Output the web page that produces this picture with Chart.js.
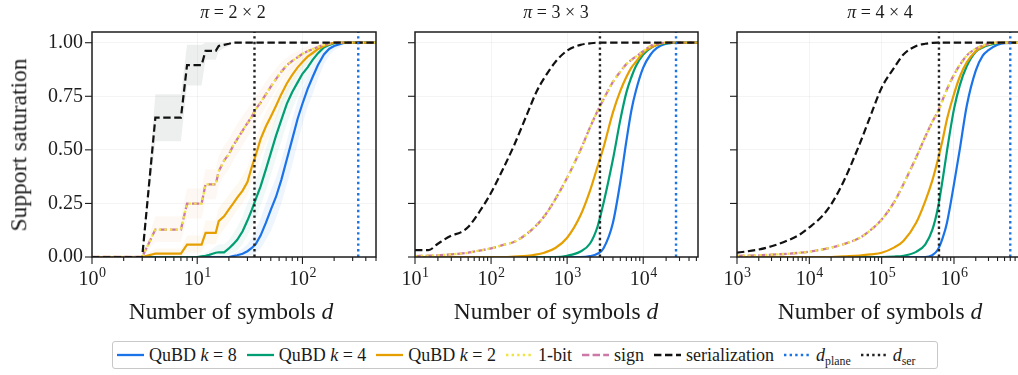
<!DOCTYPE html>
<html>
<head>
<meta charset="utf-8">
<title>Support saturation</title>
<script src="https://cdn.jsdelivr.net/npm/chart.js@4.4.1/dist/chart.umd.min.js"></script>
<style>
  html, body { margin: 0; padding: 0; background: #fff; }
  body { position: relative; width: 1018px; height: 375px; overflow: hidden;
         font-family: "Liberation Serif", "Times New Roman", serif; color: #1b1b1b; }
  canvas { position: absolute; top: 0; }
  .lbl { position: absolute; white-space: nowrap; line-height: 1; transform: translateX(-50%); }
  .title { font-size: 18px; top: 3px; }
  .xlab { font-size: 23.5px; top: 300px; }
  .ylab { position: absolute; font-size: 23.5px; line-height: 1; white-space: nowrap;
          left: 19px; top: 145px; transform: translate(-50%, -50%) rotate(-90deg); }
  #legend { position: absolute; left: 112px; top: 341px; width: 826px; height: 28px; box-sizing: border-box;
            border: 1px solid #c8c8c8; border-radius: 3px; display: flex; align-items: center;
            padding-left: 4px; font-size: 18px; }
  .item { display: flex; align-items: center; margin-right: 10px; white-space: nowrap; }
  .item svg { margin-right: 5px; }
  sub { font-size: 0.66em; vertical-align: -0.3em; line-height: 0; }
</style>
</head>
<body>
<canvas id="p1" width="385" height="300" style="left:0px"></canvas>
<canvas id="p2" width="320" height="300" style="left:385px"></canvas>
<canvas id="p3" width="320" height="300" style="left:705px"></canvas>

<div class="lbl title" style="left:233px"><i>π</i> = 2 × 2</div>
<div class="lbl title" style="left:556px"><i>π</i> = 3 × 3</div>
<div class="lbl title" style="left:880px"><i>π</i> = 4 × 4</div>

<div class="ylab">Support saturation</div>
<div class="lbl xlab" style="left:231px">Number of symbols <i>d</i></div>
<div class="lbl xlab" style="left:556px">Number of symbols <i>d</i></div>
<div class="lbl xlab" style="left:880px">Number of symbols <i>d</i></div>

<div id="legend"></div>

<script>
// ---------------- data ----------------
// pi = 2x2 : mean curves (steps) + spread bands
const d22 = [1, 2, 3, 4, 5, 6, 7, 8, 9, 10, 11, 12, 13, 14, 15, 16, 18, 20, 22, 24, 27, 30, 33, 36, 40, 45, 50, 56, 63, 71, 80, 90, 100, 112, 125, 140, 160, 180, 200, 250, 350, 500];
const ser22 = [0, 0, 0, .65, .65, .65, .65, .895, .895, .895, .895, .962, .962, .962, .962, .985, .99, .995, 1, 1, 1, 1, 1, 1, 1, 1, 1, 1, 1, 1, 1, 1, 1, 1, 1, 1, 1, 1, 1, 1, 1, 1];
const ser22Lo = [0, 0, 0, .54, .54, .54, .54, .80, .80, .80, .80, .92, .92, .92, .92, .96, .975, .985, 1, 1, 1, 1, 1, 1, 1, 1, 1, 1, 1, 1, 1, 1, 1, 1, 1, 1, 1, 1, 1, 1, 1, 1];
const ser22Hi = [0, 0, 0, .76, .76, .76, .76, .99, .99, .99, .99, 1, 1, 1, 1, 1, 1, 1, 1, 1, 1, 1, 1, 1, 1, 1, 1, 1, 1, 1, 1, 1, 1, 1, 1, 1, 1, 1, 1, 1, 1, 1];
// 1-bit and sign coincide
const bit22 = [0, 0, 0, .128, .128, .128, .128, .249, .249, .249, .249, .339, .339, .339, .339, .40, .45, .48, .52, .55, .59, .625, .655, .69, .72, .76, .795, .83, .865, .895, .915, .932, .948, .96, .97, .98, .99, .996, 1, 1, 1, 1];
const bit22Lo = [0, 0, 0, .07, .07, .07, .07, .18, .18, .18, .18, .27, .27, .27, .27, .33, .38, .41, .45, .48, .52, .56, .59, .63, .66, .70, .74, .78, .82, .86, .88, .90, .92, .94, .955, .97, .985, .99, 1, 1, 1, 1];
const bit22Hi = [0, 0, 0, .19, .19, .19, .19, .32, .32, .32, .32, .41, .41, .41, .41, .47, .52, .55, .59, .62, .66, .69, .72, .75, .78, .82, .85, .88, .91, .93, .95, .96, .975, .985, .99, 1, 1, 1, 1, 1, 1, 1];
const k2_22 = [0, 0, 0, .016, .016, .016, .016, .058, .058, .058, .058, .113, .113, .113, .113, .167, .19, .222, .25, .277, .31, .35, .42, .475, .55, .61, .655, .705, .76, .81, .85, .885, .91, .935, .952, .97, .985, .993, 1, 1, 1, 1];
const k2_22Lo = [0, 0, 0, 0, 0, 0, 0, .02, .02, .02, .02, .06, .06, .06, .06, .10, .13, .16, .19, .22, .25, .29, .35, .40, .47, .53, .58, .64, .70, .76, .81, .85, .88, .91, .935, .955, .975, .99, 1, 1, 1, 1];
const k2_22Hi = [0, 0, 0, .04, .04, .04, .04, .10, .10, .10, .10, .17, .17, .17, .17, .23, .26, .29, .32, .34, .38, .42, .49, .55, .62, .68, .72, .77, .81, .86, .89, .92, .94, .96, .97, .985, .995, 1, 1, 1, 1, 1];
const k4_22 = [0, 0, 0, 0, 0, 0, 0, 0, 0, 0, .003, .006, .01, .015, .02, .022, .022, .04, .06, .08, .12, .17, .22, .27, .33, .41, .485, .565, .64, .715, .77, .815, .855, .885, .92, .95, .978, .99, .998, 1, 1, 1];
const k4_22Lo = [0, 0, 0, 0, 0, 0, 0, 0, 0, 0, 0, 0, 0, 0, 0, 0, 0, .01, .02, .03, .06, .10, .14, .18, .24, .31, .38, .46, .54, .62, .69, .75, .80, .84, .88, .92, .96, .98, .995, 1, 1, 1];
const k4_22Hi = [0, 0, 0, 0, 0, 0, 0, 0, 0, 0, .01, .02, .03, .04, .05, .06, .06, .08, .11, .14, .19, .25, .30, .36, .42, .51, .58, .66, .73, .79, .83, .87, .90, .92, .95, .975, .99, 1, 1, 1, 1, 1];
const k8_22 = [0, 0, 0, 0, 0, 0, 0, 0, 0, 0, 0, 0, 0, 0, 0, 0, 0, 0, .004, .008, .015, .027, .042, .06, .10, .16, .22, .28, .36, .455, .55, .645, .715, .785, .84, .895, .945, .972, .985, 1, 1, 1];
const k8_22Lo = [0, 0, 0, 0, 0, 0, 0, 0, 0, 0, 0, 0, 0, 0, 0, 0, 0, 0, 0, 0, 0, .005, .01, .02, .04, .08, .12, .18, .25, .34, .43, .53, .62, .70, .76, .83, .90, .94, .965, .99, 1, 1];
const k8_22Hi = [0, 0, 0, 0, 0, 0, 0, 0, 0, 0, 0, 0, 0, 0, 0, 0, 0, .005, .015, .025, .04, .06, .09, .13, .18, .25, .31, .37, .45, .54, .64, .73, .79, .84, .88, .925, .96, .985, .993, 1, 1, 1];

// pi = 3x3
const d33 = [10, 15, 20, 30, 40, 50, 70, 100, 150, 200, 300, 400, 500, 700, 1000, 1500, 2000, 2500, 3000, 4000, 5000, 6000, 7000, 8000, 10000, 12500, 15000, 20000, 30000, 52500];
const ser33 = [.032, .032, .062, .10, .115, .14, .21, .30, .425, .52, .67, .775, .835, .91, .963, .99, .997, 1, 1, 1, 1, 1, 1, 1, 1, 1, 1, 1, 1, 1];
const bit33 = [.004, .006, .008, .012, .016, .02, .03, .04, .058, .07, .11, .15, .19, .27, .37, .50, .605, .68, .735, .817, .865, .90, .92, .935, .96, .985, .995, 1, 1, 1];
const k2_33 = [0, 0, 0, 0, 0, 0, 0, 0, 0, .002, .005, .012, .02, .042, .09, .195, .31, .42, .51, .675, .775, .84, .884, .91, .955, .978, .99, 1, 1, 1];
const k4_33 = [0, 0, 0, 0, 0, 0, 0, 0, 0, 0, 0, 0, 0, 0, .006, .026, .063, .14, .25, .456, .64, .767, .84, .89, .945, .975, .99, .997, 1, 1];
const k8_33 = [0, 0, 0, 0, 0, 0, 0, 0, 0, 0, 0, 0, 0, 0, 0, 0, .004, .015, .04, .16, .35, .54, .685, .775, .884, .945, .975, .995, 1, 1];

// pi = 4x4
const d44 = [1e3, 2e3, 3e3, 5e3, 7e3, 1e4, 1.5e4, 2e4, 3e4, 5e4, 7e4, 1e5, 1.5e5, 2e5, 3e5, 4e5, 5e5, 6e5, 7e5, 8e5, 1e6, 1.2e6, 1.5e6, 2e6, 2.5e6, 3e6, 4e6, 5e6, 9e6];
const ser44 = [.02, .035, .05, .077, .10, .138, .19, .245, .355, .53, .658, .79, .885, .945, .985, .995, .999, 1, 1, 1, 1, 1, 1, 1, 1, 1, 1, 1, 1];
const bit44 = [.005, .008, .011, .015, .019, .025, .035, .044, .06, .09, .125, .175, .258, .34, .465, .56, .63, .68, .735, .783, .85, .895, .94, .972, .987, .994, 1, 1, 1];
const k2_44 = [0, 0, 0, 0, 0, 0, 0, 0, .003, .007, .012, .02, .045, .075, .16, .26, .355, .455, .55, .643, .76, .84, .908, .96, .982, .993, 1, 1, 1];
const k4_44 = [0, 0, 0, 0, 0, 0, 0, 0, 0, 0, 0, 0, .002, .006, .024, .058, .125, .23, .365, .495, .69, .80, .89, .958, .978, .988, .998, 1, 1];
const k8_44 = [0, 0, 0, 0, 0, 0, 0, 0, 0, 0, 0, 0, 0, 0, 0, 0, .008, .035, .09, .16, .34, .50, .705, .87, .94, .965, .99, .998, 1];

// reference thresholds per panel
const dPlane = [339, 27000, 6.0e6];
const dSer = [35, 2700, 6.2e5];

// axes
const xRange = [[1, 500], [10, 52500], [1e3, 9e6]];
const xMajors = [[1, 10, 100], [10, 100, 1000, 10000], [1e3, 1e4, 1e5, 1e6]];
const yTicks = [0, 0.25, 0.5, 0.75, 1.0];

// ---------------- styling ----------------
const ink = '#1e1e1e';
const gridColor = 'rgba(0,0,0,0.045)';
const col = {
  k8: '#1a73e8', k4: '#009e73', k2: '#e69f00', bit: '#f0e442',
  sign: '#cc79a7', ser: '#111111', plane: '#1a73e8', dser: '#222222'
};
const dash = { ser: [7.4, 3.6], sign: [7.4, 3.2], dot: [2.4, 3.2] };

Chart.defaults.font.family = '"Liberation Serif", "Times New Roman", serif';

function logTicks(majors, min, max) {
  const out = [];
  majors.forEach(m => {
    for (let k = 1; k <= 9; k++) {
      const v = m * k;
      if (v >= min * 0.999 && v <= max * 1.001) out.push({ value: v, major: k === 1 });
    }
  });
  return out;
}

// frame, outward ticks and 10^n labels
const axesPlugin = {
  id: 'axesPlugin',
  afterDraw(chart) {
    const { ctx, chartArea: a, scales: { x, y } } = chart;
    ctx.save();
    ctx.strokeStyle = ink;
    ctx.lineWidth = 1.1;
    x.ticks.forEach(t => {
      const px = x.getPixelForValue(t.value);
      if (px < a.left - 1 || px > a.right + 1) return;
      ctx.beginPath();
      ctx.moveTo(px, a.bottom);
      ctx.lineTo(px, a.bottom + (t.major ? 7 : 4));
      ctx.stroke();
    });
    y.ticks.forEach(t => {
      const py = y.getPixelForValue(t.value);
      ctx.beginPath();
      ctx.moveTo(a.left, py);
      ctx.lineTo(a.left - 7, py);
      ctx.stroke();
    });
    ctx.lineWidth = 1.5;
    ctx.strokeRect(a.left, a.top, a.right - a.left, a.bottom - a.top);

    ctx.fillStyle = ink;
    ctx.textBaseline = 'alphabetic';
    const fam = '"Liberation Serif", serif';
    x.ticks.forEach(t => {
      if (!t.major) return;
      const px = x.getPixelForValue(t.value);
      const exp = String(Math.round(Math.log10(t.value)));
      ctx.font = '20px ' + fam;
      const wb = ctx.measureText('10').width;
      ctx.font = '14px ' + fam;
      const we = ctx.measureText(exp).width;
      const left = px - (wb + we) / 2;
      ctx.font = '20px ' + fam;
      ctx.fillText('10', left, a.bottom + 28);
      ctx.font = '14px ' + fam;
      ctx.fillText(exp, left + wb + 0.5, a.bottom + 19.5);
    });
    ctx.restore();
  }
};

function lineSet(xs, ys, color, width, borderDash, order, smooth) {
  return {
    data: xs.map((x, i) => ({ x, y: ys[i] })),
    borderColor: color, borderWidth: width, borderDash: borderDash || [],
    borderCapStyle: 'butt', pointRadius: 0, fill: false, order,
    cubicInterpolationMode: smooth ? 'monotone' : 'default', tension: 0
  };
}

function bandSets(xs, lo, hi, color) {
  return [
    { data: xs.map((x, i) => ({ x, y: lo[i] })), borderWidth: 0, pointRadius: 0, fill: false, order: 20 },
    { data: xs.map((x, i) => ({ x, y: hi[i] })), borderWidth: 0, pointRadius: 0, fill: '-1', backgroundColor: color, order: 20 }
  ];
}

function vline(v, color, order) {
  return {
    data: [{ x: v, y: 0 }, { x: v, y: 1.05 }],
    borderColor: color, borderWidth: 2.4, borderDash: dash.dot, pointRadius: 0, fill: false, order
  };
}

function panel(id, idx, series, bands, opts) {
  const [min, max] = xRange[idx];
  const smooth = idx > 0;
  const datasets = [];
  bands.forEach(b => datasets.push(...b));
  datasets.push(
    lineSet(series.d, series.k8, col.k8, 2.2, null, 7, smooth),
    lineSet(series.d, series.k4, col.k4, 2.2, null, 6, smooth),
    lineSet(series.d, series.k2, col.k2, 2.2, null, 5, smooth),
    lineSet(series.d, series.bit, col.sign, 2.3, dash.sign, 4, smooth),
    lineSet(series.d, series.bit, col.bit, 2.3, dash.dot, 3, smooth),
    lineSet(series.d, series.ser, col.ser, 2.2, dash.ser, 2, smooth),
    vline(dPlane[idx], col.plane, 1),
    vline(dSer[idx], col.dser, 0)
  );
  return new Chart(document.getElementById(id), {
    type: 'line',
    data: { datasets },
    plugins: [axesPlugin],
    options: {
      responsive: false,
      animation: false,
      devicePixelRatio: 1,
      events: [],
      layout: { padding: { left: 0, right: opts.padRight, top: 32, bottom: 0 } },
      plugins: { legend: { display: false }, tooltip: { enabled: false } },
      scales: {
        x: {
          type: 'logarithmic', min, max,
          afterBuildTicks: s => { s.ticks = logTicks(xMajors[idx], min, max); },
          afterFit: s => { s.height = 43; },
          grid: { drawTicks: false, color: c => (c.tick && c.tick.major) ? gridColor : 'rgba(0,0,0,0)' },
          border: { display: false },
          ticks: { display: false }
        },
        y: {
          type: 'linear', min: 0, max: 1.05,
          afterBuildTicks: s => { s.ticks = yTicks.map(v => ({ value: v })); },
          afterFit: s => { s.width = opts.yWidth; },
          grid: { drawTicks: false, color: gridColor },
          border: { display: false },
          ticks: {
            display: opts.yLabels, padding: 9, color: ink,
            font: { size: 20 }, callback: v => Number(v).toFixed(2)
          }
        }
      }
    }
  });
}

panel('p1', 0,
  { d: d22, k8: k8_22, k4: k4_22, k2: k2_22, bit: bit22, ser: ser22 },
  [
    bandSets(d22, ser22Lo, ser22Hi, 'rgba(140,155,150,0.16)'),
    bandSets(d22, bit22Lo, bit22Hi, 'rgba(225,160,90,0.07)'),
    bandSets(d22, k2_22Lo, k2_22Hi, 'rgba(230,159,0,0.06)'),
    bandSets(d22, k4_22Lo, k4_22Hi, 'rgba(0,158,115,0.06)'),
    bandSets(d22, k8_22Lo, k8_22Hi, 'rgba(26,115,232,0.07)')
  ],
  { yWidth: 92, padRight: 9, yLabels: true });

panel('p2', 1,
  { d: d33, k8: k8_33, k4: k4_33, k2: k2_33, bit: bit33, ser: ser33 }, [],
  { yWidth: 30, padRight: 7, yLabels: false });

panel('p3', 2,
  { d: d44, k8: k8_44, k4: k4_44, k2: k2_44, bit: bit44, ser: ser44 }, [],
  { yWidth: 32, padRight: 2, yLabels: false });

// ---------------- legend ----------------
const legendItems = [
  { html: 'QuBD <i>k</i> = 8', color: col.k8, dash: null },
  { html: 'QuBD <i>k</i> = 4', color: col.k4, dash: null },
  { html: 'QuBD <i>k</i> = 2', color: col.k2, dash: null },
  { html: '1-bit', color: col.bit, dash: dash.dot },
  { html: 'sign', color: col.sign, dash: dash.sign },
  { html: 'serialization', color: col.ser, dash: dash.ser },
  { html: '<i>d</i><sub>plane</sub>', color: col.plane, dash: dash.dot },
  { html: '<i>d</i><sub>ser</sub>', color: col.dser, dash: dash.dot }
];
const legend = document.getElementById('legend');
legendItems.forEach(it => {
  const el = document.createElement('span');
  el.className = 'item';
  const da = it.dash ? ` stroke-dasharray="${it.dash.join(' ')}"` : '';
  el.innerHTML = `<svg width="27" height="8"><line x1="0" y1="4" x2="27" y2="4" stroke="${it.color}" stroke-width="2.3"${da}/></svg><span>${it.html}</span>`;
  legend.appendChild(el);
});
</script>
</body>
</html>
